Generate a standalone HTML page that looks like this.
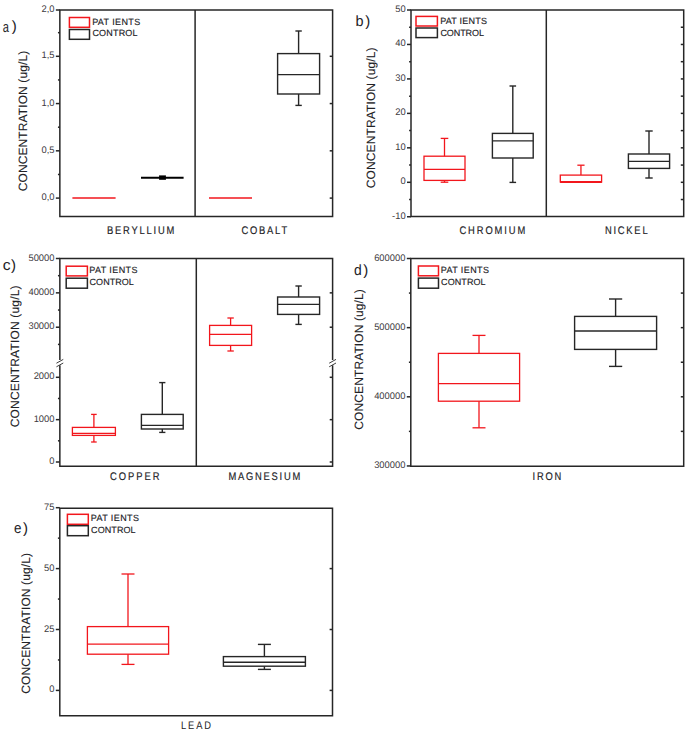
<!DOCTYPE html>
<html><head><meta charset="utf-8"><title>Concentration box plots</title>
<style>
html,body{margin:0;padding:0;background:#fff;}
body{width:685px;height:734px;overflow:hidden;}
svg{display:block;font-family:"Liberation Sans",sans-serif;text-rendering:geometricPrecision;}
.pl{fill:#222226;stroke:#222226;stroke-width:0.0px;}
.xl{fill:#222226;stroke:#222226;stroke-width:0.18px;}
.lg{fill:#222226;stroke:#222226;stroke-width:0.15px;}
.yl{fill:#222226;stroke:#222226;stroke-width:0.1px;}
.tk{fill:#3c3a40;stroke:#3c3a40;stroke-width:0.0px;}
</style></head>
<body>
<svg width="685" height="734" viewBox="0 0 685 734">
<rect x="0" y="0" width="685" height="734" fill="#fff"/>
<path d="M59.85 10H332.6V216.5H59.85Z" fill="none" stroke="#262626" stroke-width="1.5"/>
<line x1="195.1" y1="10" x2="195.1" y2="216.5" stroke="#262626" stroke-width="1.5"/>
<line x1="55.85" y1="198.1" x2="59.85" y2="198.1" stroke="#262626" stroke-width="1.5"/>
<line x1="55.85" y1="150.83" x2="59.85" y2="150.83" stroke="#262626" stroke-width="1.5"/>
<line x1="55.85" y1="103.57" x2="59.85" y2="103.57" stroke="#262626" stroke-width="1.5"/>
<line x1="55.85" y1="56.3" x2="59.85" y2="56.3" stroke="#262626" stroke-width="1.5"/>
<line x1="55.85" y1="10" x2="59.85" y2="10" stroke="#262626" stroke-width="1.5"/>
<line x1="57.95" y1="174.47" x2="59.85" y2="174.47" stroke="#262626" stroke-width="1.5"/>
<line x1="57.95" y1="127.2" x2="59.85" y2="127.2" stroke="#262626" stroke-width="1.5"/>
<line x1="57.95" y1="79.94" x2="59.85" y2="79.94" stroke="#262626" stroke-width="1.5"/>
<line x1="57.95" y1="32.67" x2="59.85" y2="32.67" stroke="#262626" stroke-width="1.5"/>
<line x1="329.7" y1="198.1" x2="332.6" y2="198.1" stroke="#262626" stroke-width="1.5"/>
<line x1="329.7" y1="150.83" x2="332.6" y2="150.83" stroke="#262626" stroke-width="1.5"/>
<line x1="329.7" y1="103.57" x2="332.6" y2="103.57" stroke="#262626" stroke-width="1.5"/>
<line x1="329.7" y1="56.3" x2="332.6" y2="56.3" stroke="#262626" stroke-width="1.5"/>
<text x="54.55" y="12" font-size="9.5" class="tk" text-anchor="end" textLength="13.07" lengthAdjust="spacingAndGlyphs">2,0</text>
<text x="54.55" y="58.3" font-size="9.5" class="tk" text-anchor="end" textLength="13.07" lengthAdjust="spacingAndGlyphs">1,5</text>
<text x="54.55" y="105.57" font-size="9.5" class="tk" text-anchor="end" textLength="13.07" lengthAdjust="spacingAndGlyphs">1,0</text>
<text x="54.55" y="152.83" font-size="9.5" class="tk" text-anchor="end" textLength="13.07" lengthAdjust="spacingAndGlyphs">0,5</text>
<text x="54.55" y="200.1" font-size="9.5" class="tk" text-anchor="end" textLength="13.07" lengthAdjust="spacingAndGlyphs">0,0</text>
<rect x="69.4" y="17.5" width="20.1" height="9.8" stroke="#f2161c" stroke-width="1.5" fill="none"/>
<rect x="69.4" y="29.5" width="20.1" height="9.8" stroke="#262626" stroke-width="1.5" fill="none"/>
<text font-size="9" class="lg" textLength="48.05" lengthAdjust="spacing" transform="translate(92.15,24.63)">PAT IENTS</text>
<text font-size="9" class="lg" textLength="45.20" lengthAdjust="spacing" transform="translate(92.40,36.42)">CONTROL</text>
<line x1="72.4" y1="198" x2="115.6" y2="198" stroke="#f2161c" stroke-width="1.5"/>
<line x1="141" y1="177.7" x2="183.6" y2="177.7" stroke="#000" stroke-width="2.1"/>
<rect x="159.3" y="175.8" width="6.4" height="3.7" stroke="#000" stroke-width="0.6" fill="#000"/>
<line x1="209" y1="198" x2="252" y2="198" stroke="#f2161c" stroke-width="1.5"/>
<line x1="298.6" y1="31" x2="298.6" y2="53.6" stroke="#262626" stroke-width="1.4"/>
<line x1="298.6" y1="94" x2="298.6" y2="105.4" stroke="#262626" stroke-width="1.4"/>
<line x1="295.4" y1="31" x2="301.8" y2="31" stroke="#262626" stroke-width="1.4"/>
<line x1="295.4" y1="105.4" x2="301.8" y2="105.4" stroke="#262626" stroke-width="1.4"/>
<rect x="277.6" y="53.6" width="42" height="40.4" stroke="#262626" stroke-width="1.4" fill="none"/>
<line x1="277.6" y1="74.6" x2="319.6" y2="74.6" stroke="#262626" stroke-width="1.4"/>
<text font-size="11" class="xl" textLength="79.24" lengthAdjust="spacing" transform="translate(106.90,234.00) scale(0.850,1)">BERYLLIUM</text>
<text font-size="11" class="xl" textLength="53.82" lengthAdjust="spacing" transform="translate(241.40,234.00) scale(0.850,1)">COBALT</text>
<text font-size="15" class="pl" transform="translate(2.85,31.60) scale(0.742,1)">a</text>
<text font-size="15" class="pl" transform="translate(11.63,31.27)">)</text>
<text x="0" y="0" font-size="12" class="yl" textLength="140.45" lengthAdjust="spacing" transform="translate(27.00,191.25) scale(1.000,1) rotate(-90)">CONCENTRATION (ug/L)</text>
<path d="M411 10H683.7V216.5H411Z" fill="none" stroke="#262626" stroke-width="1.5"/>
<line x1="546.3" y1="10" x2="546.3" y2="216.5" stroke="#262626" stroke-width="1.5"/>
<line x1="407" y1="216.76" x2="411" y2="216.76" stroke="#262626" stroke-width="1.5"/>
<line x1="407" y1="182.3" x2="411" y2="182.3" stroke="#262626" stroke-width="1.5"/>
<line x1="407" y1="147.84" x2="411" y2="147.84" stroke="#262626" stroke-width="1.5"/>
<line x1="407" y1="113.38" x2="411" y2="113.38" stroke="#262626" stroke-width="1.5"/>
<line x1="407" y1="78.92" x2="411" y2="78.92" stroke="#262626" stroke-width="1.5"/>
<line x1="407" y1="44.46" x2="411" y2="44.46" stroke="#262626" stroke-width="1.5"/>
<line x1="407" y1="10" x2="411" y2="10" stroke="#262626" stroke-width="1.5"/>
<line x1="409.1" y1="199.53" x2="411" y2="199.53" stroke="#262626" stroke-width="1.5"/>
<line x1="409.1" y1="165.07" x2="411" y2="165.07" stroke="#262626" stroke-width="1.5"/>
<line x1="409.1" y1="130.61" x2="411" y2="130.61" stroke="#262626" stroke-width="1.5"/>
<line x1="409.1" y1="96.15" x2="411" y2="96.15" stroke="#262626" stroke-width="1.5"/>
<line x1="409.1" y1="61.69" x2="411" y2="61.69" stroke="#262626" stroke-width="1.5"/>
<line x1="409.1" y1="27.23" x2="411" y2="27.23" stroke="#262626" stroke-width="1.5"/>
<line x1="680.8" y1="199.53" x2="683.7" y2="199.53" stroke="#262626" stroke-width="1.5"/>
<line x1="680.8" y1="182.3" x2="683.7" y2="182.3" stroke="#262626" stroke-width="1.5"/>
<line x1="680.8" y1="165.07" x2="683.7" y2="165.07" stroke="#262626" stroke-width="1.5"/>
<line x1="680.8" y1="147.84" x2="683.7" y2="147.84" stroke="#262626" stroke-width="1.5"/>
<line x1="680.8" y1="130.61" x2="683.7" y2="130.61" stroke="#262626" stroke-width="1.5"/>
<line x1="680.8" y1="113.38" x2="683.7" y2="113.38" stroke="#262626" stroke-width="1.5"/>
<line x1="680.8" y1="96.15" x2="683.7" y2="96.15" stroke="#262626" stroke-width="1.5"/>
<line x1="680.8" y1="78.92" x2="683.7" y2="78.92" stroke="#262626" stroke-width="1.5"/>
<line x1="680.8" y1="61.69" x2="683.7" y2="61.69" stroke="#262626" stroke-width="1.5"/>
<line x1="680.8" y1="44.46" x2="683.7" y2="44.46" stroke="#262626" stroke-width="1.5"/>
<line x1="680.8" y1="27.23" x2="683.7" y2="27.23" stroke="#262626" stroke-width="1.5"/>
<text x="405.7" y="12" font-size="9.5" class="tk" text-anchor="end" textLength="10.45" lengthAdjust="spacingAndGlyphs">50</text>
<text x="405.7" y="46.46" font-size="9.5" class="tk" text-anchor="end" textLength="10.45" lengthAdjust="spacingAndGlyphs">40</text>
<text x="405.7" y="80.92" font-size="9.5" class="tk" text-anchor="end" textLength="10.45" lengthAdjust="spacingAndGlyphs">30</text>
<text x="405.7" y="115.38" font-size="9.5" class="tk" text-anchor="end" textLength="10.45" lengthAdjust="spacingAndGlyphs">20</text>
<text x="405.7" y="149.84" font-size="9.5" class="tk" text-anchor="end" textLength="10.45" lengthAdjust="spacingAndGlyphs">10</text>
<text x="405.7" y="184.3" font-size="9.5" class="tk" text-anchor="end" textLength="5.23" lengthAdjust="spacingAndGlyphs">0</text>
<text x="405.7" y="218.76" font-size="9.5" class="tk" text-anchor="end" textLength="13.58" lengthAdjust="spacingAndGlyphs">-10</text>
<rect x="416" y="16.4" width="21.4" height="9.6" stroke="#f2161c" stroke-width="1.5" fill="none"/>
<rect x="416" y="28" width="21.4" height="9.6" stroke="#262626" stroke-width="1.5" fill="none"/>
<text font-size="9" class="lg" textLength="46.85" lengthAdjust="spacing" transform="translate(440.15,23.87)">PAT IENTS</text>
<text font-size="9" class="lg" textLength="43.60" lengthAdjust="spacing" transform="translate(440.40,35.88)">CONTROL</text>
<line x1="444.5" y1="138.4" x2="444.5" y2="156.2" stroke="#f2161c" stroke-width="1.3"/>
<line x1="444.5" y1="180.4" x2="444.5" y2="182.2" stroke="#f2161c" stroke-width="1.3"/>
<line x1="440.7" y1="138.4" x2="448.3" y2="138.4" stroke="#f2161c" stroke-width="1.3"/>
<line x1="440.7" y1="182.2" x2="448.3" y2="182.2" stroke="#f2161c" stroke-width="1.3"/>
<rect x="424" y="156.2" width="41" height="24.2" stroke="#f2161c" stroke-width="1.3" fill="none"/>
<line x1="424" y1="169.4" x2="465" y2="169.4" stroke="#f2161c" stroke-width="1.3"/>
<line x1="512.8" y1="86" x2="512.8" y2="133.4" stroke="#262626" stroke-width="1.4"/>
<line x1="512.8" y1="158" x2="512.8" y2="182.4" stroke="#262626" stroke-width="1.4"/>
<line x1="509.5" y1="86" x2="516.1" y2="86" stroke="#262626" stroke-width="1.4"/>
<line x1="509.5" y1="182.4" x2="516.1" y2="182.4" stroke="#262626" stroke-width="1.4"/>
<rect x="492.4" y="133.4" width="40.8" height="24.6" stroke="#262626" stroke-width="1.4" fill="none"/>
<line x1="492.4" y1="140.9" x2="533.2" y2="140.9" stroke="#262626" stroke-width="1.4"/>
<line x1="580.95" y1="165.2" x2="580.95" y2="175.1" stroke="#f2161c" stroke-width="1.3"/>
<line x1="580.95" y1="182" x2="580.95" y2="182" stroke="#f2161c" stroke-width="1.3"/>
<line x1="577.35" y1="165.2" x2="584.55" y2="165.2" stroke="#f2161c" stroke-width="1.3"/>
<line x1="577.35" y1="182" x2="584.55" y2="182" stroke="#f2161c" stroke-width="1.3"/>
<rect x="560.3" y="175.1" width="41.3" height="6.9" stroke="#f2161c" stroke-width="1.3" fill="none"/>
<line x1="560.3" y1="182" x2="601.6" y2="182" stroke="#f2161c" stroke-width="1.3"/>
<line x1="560.3" y1="181.9" x2="601.6" y2="181.9" stroke="#f2161c" stroke-width="2.0"/>
<line x1="649" y1="131" x2="649" y2="154" stroke="#262626" stroke-width="1.4"/>
<line x1="649" y1="168.4" x2="649" y2="178" stroke="#262626" stroke-width="1.4"/>
<line x1="645.3" y1="131" x2="652.7" y2="131" stroke="#262626" stroke-width="1.4"/>
<line x1="645.3" y1="178" x2="652.7" y2="178" stroke="#262626" stroke-width="1.4"/>
<rect x="628.4" y="154" width="41.2" height="14.4" stroke="#262626" stroke-width="1.4" fill="none"/>
<line x1="628.4" y1="161.4" x2="669.6" y2="161.4" stroke="#262626" stroke-width="1.4"/>
<text font-size="11" class="xl" textLength="77.47" lengthAdjust="spacing" transform="translate(459.40,234.00) scale(0.850,1)">CHROMIUM</text>
<text font-size="11" class="xl" textLength="50.24" lengthAdjust="spacing" transform="translate(604.90,234.00) scale(0.850,1)">NICKEL</text>
<text font-size="15" class="pl" transform="translate(355.40,25.88) scale(0.964,1)">b</text>
<text font-size="15" class="pl" transform="translate(365.23,25.82)">)</text>
<text x="0" y="0" font-size="12" class="yl" textLength="140.85" lengthAdjust="spacing" transform="translate(374.80,188.25) scale(1.000,1) rotate(-90)">CONCENTRATION (ug/L)</text>
<path d="M59.85 360.0V258.5H332.6V360.0M332.6 365.2V466.3H59.85V365.2" fill="none" stroke="#262626" stroke-width="1.5"/>
<line x1="196.3" y1="258.5" x2="196.3" y2="466.3" stroke="#262626" stroke-width="1.5"/>
<line x1="56.45" y1="363.2" x2="63.25" y2="359.4" stroke="#333" stroke-width="0.95"/>
<line x1="56.45" y1="366.8" x2="63.25" y2="363" stroke="#333" stroke-width="0.95"/>
<line x1="329.2" y1="363.2" x2="336" y2="359.4" stroke="#333" stroke-width="0.95"/>
<line x1="329.2" y1="366.8" x2="336" y2="363" stroke="#333" stroke-width="0.95"/>
<line x1="55.85" y1="258.5" x2="59.85" y2="258.5" stroke="#262626" stroke-width="1.5"/>
<line x1="55.85" y1="292.86" x2="59.85" y2="292.86" stroke="#262626" stroke-width="1.5"/>
<line x1="55.85" y1="327.22" x2="59.85" y2="327.22" stroke="#262626" stroke-width="1.5"/>
<line x1="55.85" y1="377.3" x2="59.85" y2="377.3" stroke="#262626" stroke-width="1.5"/>
<line x1="55.85" y1="419.65" x2="59.85" y2="419.65" stroke="#262626" stroke-width="1.5"/>
<line x1="55.85" y1="462" x2="59.85" y2="462" stroke="#262626" stroke-width="1.5"/>
<line x1="57.95" y1="275.68" x2="59.85" y2="275.68" stroke="#262626" stroke-width="1.5"/>
<line x1="57.95" y1="310.04" x2="59.85" y2="310.04" stroke="#262626" stroke-width="1.5"/>
<line x1="57.95" y1="344.4" x2="59.85" y2="344.4" stroke="#262626" stroke-width="1.5"/>
<line x1="57.95" y1="398.48" x2="59.85" y2="398.48" stroke="#262626" stroke-width="1.5"/>
<line x1="57.95" y1="440.82" x2="59.85" y2="440.82" stroke="#262626" stroke-width="1.5"/>
<line x1="329.7" y1="292.86" x2="332.6" y2="292.86" stroke="#262626" stroke-width="1.5"/>
<line x1="329.7" y1="327.22" x2="332.6" y2="327.22" stroke="#262626" stroke-width="1.5"/>
<line x1="329.7" y1="377.3" x2="332.6" y2="377.3" stroke="#262626" stroke-width="1.5"/>
<line x1="329.7" y1="419.65" x2="332.6" y2="419.65" stroke="#262626" stroke-width="1.5"/>
<line x1="329.7" y1="462" x2="332.6" y2="462" stroke="#262626" stroke-width="1.5"/>
<text x="54.55" y="260.5" font-size="9.5" class="tk" text-anchor="end" textLength="26.13" lengthAdjust="spacingAndGlyphs">50000</text>
<text x="54.55" y="294.86" font-size="9.5" class="tk" text-anchor="end" textLength="26.13" lengthAdjust="spacingAndGlyphs">40000</text>
<text x="54.55" y="329.22" font-size="9.5" class="tk" text-anchor="end" textLength="26.13" lengthAdjust="spacingAndGlyphs">30000</text>
<text x="54.55" y="379.3" font-size="9.5" class="tk" text-anchor="end" textLength="20.91" lengthAdjust="spacingAndGlyphs">2000</text>
<text x="54.55" y="421.65" font-size="9.5" class="tk" text-anchor="end" textLength="20.91" lengthAdjust="spacingAndGlyphs">1000</text>
<text x="54.55" y="464" font-size="9.5" class="tk" text-anchor="end" textLength="5.23" lengthAdjust="spacingAndGlyphs">0</text>
<rect x="66.2" y="266.2" width="21.2" height="9.7" stroke="#f2161c" stroke-width="1.5" fill="none"/>
<rect x="66.2" y="278.2" width="21.2" height="10" stroke="#262626" stroke-width="1.5" fill="none"/>
<text font-size="9" class="lg" textLength="48.05" lengthAdjust="spacing" transform="translate(89.35,273.23)">PAT IENTS</text>
<text font-size="9" class="lg" textLength="44.10" lengthAdjust="spacing" transform="translate(89.60,285.23)">CONTROL</text>
<line x1="93.9" y1="414.4" x2="93.9" y2="427.4" stroke="#f2161c" stroke-width="1.3"/>
<line x1="93.9" y1="435.4" x2="93.9" y2="442" stroke="#f2161c" stroke-width="1.3"/>
<line x1="91.1" y1="414.4" x2="96.7" y2="414.4" stroke="#f2161c" stroke-width="1.3"/>
<line x1="91.1" y1="442" x2="96.7" y2="442" stroke="#f2161c" stroke-width="1.3"/>
<rect x="72.4" y="427.4" width="43" height="8" stroke="#f2161c" stroke-width="1.3" fill="none"/>
<line x1="72.4" y1="433.4" x2="115.4" y2="433.4" stroke="#f2161c" stroke-width="1.3"/>
<line x1="162.3" y1="382.6" x2="162.3" y2="414.4" stroke="#262626" stroke-width="1.4"/>
<line x1="162.3" y1="429" x2="162.3" y2="432.4" stroke="#262626" stroke-width="1.4"/>
<line x1="159.2" y1="382.6" x2="165.4" y2="382.6" stroke="#262626" stroke-width="1.4"/>
<line x1="159.2" y1="432.4" x2="165.4" y2="432.4" stroke="#262626" stroke-width="1.4"/>
<rect x="141.4" y="414.4" width="41.8" height="14.6" stroke="#262626" stroke-width="1.4" fill="none"/>
<line x1="141.4" y1="425.4" x2="183.2" y2="425.4" stroke="#262626" stroke-width="1.4"/>
<line x1="230.6" y1="318" x2="230.6" y2="325.4" stroke="#f2161c" stroke-width="1.3"/>
<line x1="230.6" y1="345.4" x2="230.6" y2="351" stroke="#f2161c" stroke-width="1.3"/>
<line x1="227.4" y1="318" x2="233.8" y2="318" stroke="#f2161c" stroke-width="1.3"/>
<line x1="227.4" y1="351" x2="233.8" y2="351" stroke="#f2161c" stroke-width="1.3"/>
<rect x="209.6" y="325.4" width="42" height="20" stroke="#f2161c" stroke-width="1.3" fill="none"/>
<line x1="209.6" y1="334.3" x2="251.6" y2="334.3" stroke="#f2161c" stroke-width="1.3"/>
<line x1="298.6" y1="286" x2="298.6" y2="297" stroke="#262626" stroke-width="1.4"/>
<line x1="298.6" y1="314.4" x2="298.6" y2="324.4" stroke="#262626" stroke-width="1.4"/>
<line x1="295.4" y1="286" x2="301.8" y2="286" stroke="#262626" stroke-width="1.4"/>
<line x1="295.4" y1="324.4" x2="301.8" y2="324.4" stroke="#262626" stroke-width="1.4"/>
<rect x="277.6" y="297" width="42" height="17.4" stroke="#262626" stroke-width="1.4" fill="none"/>
<line x1="277.6" y1="304.4" x2="319.6" y2="304.4" stroke="#262626" stroke-width="1.4"/>
<text font-size="11" class="xl" textLength="58.12" lengthAdjust="spacing" transform="translate(110.00,480.00) scale(0.850,1)">COPPER</text>
<text font-size="11" class="xl" textLength="84.41" lengthAdjust="spacing" transform="translate(228.50,480.00) scale(0.850,1)">MAGNESIUM</text>
<text font-size="15" class="pl" transform="translate(2.85,269.85) scale(1.039,1)">c</text>
<text font-size="15" class="pl" transform="translate(10.88,270.18)">)</text>
<text x="0" y="0" font-size="12" class="yl" textLength="141.75" lengthAdjust="spacing" transform="translate(19.40,427.25) scale(1.000,1) rotate(-90)">CONCENTRATION (ug/L)</text>
<path d="M410.8 258.5H683.7V466.3H410.8Z" fill="none" stroke="#262626" stroke-width="1.5"/>
<line x1="406.8" y1="258.5" x2="410.8" y2="258.5" stroke="#262626" stroke-width="1.5"/>
<line x1="406.8" y1="327.65" x2="410.8" y2="327.65" stroke="#262626" stroke-width="1.5"/>
<line x1="406.8" y1="396.8" x2="410.8" y2="396.8" stroke="#262626" stroke-width="1.5"/>
<line x1="406.8" y1="465.95" x2="410.8" y2="465.95" stroke="#262626" stroke-width="1.5"/>
<line x1="408.9" y1="293.07" x2="410.8" y2="293.07" stroke="#262626" stroke-width="1.5"/>
<line x1="408.9" y1="362.23" x2="410.8" y2="362.23" stroke="#262626" stroke-width="1.5"/>
<line x1="408.9" y1="431.38" x2="410.8" y2="431.38" stroke="#262626" stroke-width="1.5"/>
<line x1="680.8" y1="293.07" x2="683.7" y2="293.07" stroke="#262626" stroke-width="1.5"/>
<line x1="680.8" y1="327.65" x2="683.7" y2="327.65" stroke="#262626" stroke-width="1.5"/>
<line x1="680.8" y1="362.23" x2="683.7" y2="362.23" stroke="#262626" stroke-width="1.5"/>
<line x1="680.8" y1="396.8" x2="683.7" y2="396.8" stroke="#262626" stroke-width="1.5"/>
<line x1="680.8" y1="431.38" x2="683.7" y2="431.38" stroke="#262626" stroke-width="1.5"/>
<text x="405.5" y="260.5" font-size="9.5" class="tk" text-anchor="end" textLength="31.36" lengthAdjust="spacingAndGlyphs">600000</text>
<text x="405.5" y="329.65" font-size="9.5" class="tk" text-anchor="end" textLength="31.36" lengthAdjust="spacingAndGlyphs">500000</text>
<text x="405.5" y="398.8" font-size="9.5" class="tk" text-anchor="end" textLength="31.36" lengthAdjust="spacingAndGlyphs">400000</text>
<text x="405.5" y="467.95" font-size="9.5" class="tk" text-anchor="end" textLength="31.36" lengthAdjust="spacingAndGlyphs">300000</text>
<rect x="418.4" y="266" width="20.1" height="9.8" stroke="#f2161c" stroke-width="1.5" fill="none"/>
<rect x="418.4" y="278.1" width="20.1" height="10.1" stroke="#262626" stroke-width="1.5" fill="none"/>
<text font-size="9" class="lg" textLength="48.05" lengthAdjust="spacing" transform="translate(440.85,273.23)">PAT IENTS</text>
<text font-size="9" class="lg" textLength="44.50" lengthAdjust="spacing" transform="translate(441.10,285.28)">CONTROL</text>
<line x1="479" y1="335.4" x2="479" y2="353.4" stroke="#f2161c" stroke-width="1.3"/>
<line x1="479" y1="401.2" x2="479" y2="427.8" stroke="#f2161c" stroke-width="1.3"/>
<line x1="472.5" y1="335.4" x2="485.5" y2="335.4" stroke="#f2161c" stroke-width="1.3"/>
<line x1="472.5" y1="427.8" x2="485.5" y2="427.8" stroke="#f2161c" stroke-width="1.3"/>
<rect x="438.4" y="353.4" width="81.2" height="47.8" stroke="#f2161c" stroke-width="1.3" fill="none"/>
<line x1="438.4" y1="383.6" x2="519.6" y2="383.6" stroke="#f2161c" stroke-width="1.3"/>
<line x1="615.6" y1="299" x2="615.6" y2="316.4" stroke="#262626" stroke-width="1.4"/>
<line x1="615.6" y1="349.4" x2="615.6" y2="366.4" stroke="#262626" stroke-width="1.4"/>
<line x1="609" y1="299" x2="622.2" y2="299" stroke="#262626" stroke-width="1.4"/>
<line x1="609" y1="366.4" x2="622.2" y2="366.4" stroke="#262626" stroke-width="1.4"/>
<rect x="574.6" y="316.4" width="82" height="33" stroke="#262626" stroke-width="1.4" fill="none"/>
<line x1="574.6" y1="331" x2="656.6" y2="331" stroke="#262626" stroke-width="1.4"/>
<text font-size="11" class="xl" textLength="33.82" lengthAdjust="spacing" transform="translate(532.50,480.12) scale(0.850,1)">IRON</text>
<text font-size="15" class="pl" transform="translate(353.95,275.38) scale(0.928,1)">d</text>
<text font-size="15" class="pl" transform="translate(363.27,275.43)">)</text>
<text x="0" y="0" font-size="12" class="yl" textLength="140.45" lengthAdjust="spacing" transform="translate(362.60,429.65) scale(1.000,1) rotate(-90)">CONCENTRATION (ug/L)</text>
<path d="M59.8 508.2H332.5V715.8H59.8Z" fill="none" stroke="#262626" stroke-width="1.5"/>
<line x1="55.8" y1="507.7" x2="59.8" y2="507.7" stroke="#262626" stroke-width="1.5"/>
<line x1="55.8" y1="568.6" x2="59.8" y2="568.6" stroke="#262626" stroke-width="1.5"/>
<line x1="55.8" y1="629.5" x2="59.8" y2="629.5" stroke="#262626" stroke-width="1.5"/>
<line x1="55.8" y1="690.4" x2="59.8" y2="690.4" stroke="#262626" stroke-width="1.5"/>
<line x1="57.9" y1="538.15" x2="59.8" y2="538.15" stroke="#262626" stroke-width="1.5"/>
<line x1="57.9" y1="599.05" x2="59.8" y2="599.05" stroke="#262626" stroke-width="1.5"/>
<line x1="57.9" y1="659.95" x2="59.8" y2="659.95" stroke="#262626" stroke-width="1.5"/>
<line x1="329.6" y1="568.6" x2="332.5" y2="568.6" stroke="#262626" stroke-width="1.5"/>
<line x1="329.6" y1="629.5" x2="332.5" y2="629.5" stroke="#262626" stroke-width="1.5"/>
<line x1="329.6" y1="690.4" x2="332.5" y2="690.4" stroke="#262626" stroke-width="1.5"/>
<text x="54.5" y="509.7" font-size="9.5" class="tk" text-anchor="end" textLength="10.45" lengthAdjust="spacingAndGlyphs">75</text>
<text x="54.5" y="570.6" font-size="9.5" class="tk" text-anchor="end" textLength="10.45" lengthAdjust="spacingAndGlyphs">50</text>
<text x="54.5" y="631.5" font-size="9.5" class="tk" text-anchor="end" textLength="10.45" lengthAdjust="spacingAndGlyphs">25</text>
<text x="54.5" y="692.4" font-size="9.5" class="tk" text-anchor="end" textLength="5.23" lengthAdjust="spacingAndGlyphs">0</text>
<rect x="67.4" y="514.3" width="20.9" height="10" stroke="#f2161c" stroke-width="1.5" fill="none"/>
<rect x="67.4" y="525.7" width="20.9" height="10" stroke="#262626" stroke-width="1.5" fill="none"/>
<text font-size="9" class="lg" textLength="48.05" lengthAdjust="spacing" transform="translate(90.85,521.42)">PAT IENTS</text>
<text font-size="9" class="lg" textLength="44.50" lengthAdjust="spacing" transform="translate(91.10,533.42)">CONTROL</text>
<line x1="128" y1="574" x2="128" y2="626.6" stroke="#f2161c" stroke-width="1.3"/>
<line x1="128" y1="654.2" x2="128" y2="664.4" stroke="#f2161c" stroke-width="1.3"/>
<line x1="121.5" y1="574" x2="134.5" y2="574" stroke="#f2161c" stroke-width="1.3"/>
<line x1="121.5" y1="664.4" x2="134.5" y2="664.4" stroke="#f2161c" stroke-width="1.3"/>
<rect x="87.4" y="626.6" width="81.2" height="27.6" stroke="#f2161c" stroke-width="1.3" fill="none"/>
<line x1="87.4" y1="644.2" x2="168.6" y2="644.2" stroke="#f2161c" stroke-width="1.3"/>
<line x1="264.4" y1="644.4" x2="264.4" y2="656.6" stroke="#262626" stroke-width="1.4"/>
<line x1="264.4" y1="666.2" x2="264.4" y2="669.4" stroke="#262626" stroke-width="1.4"/>
<line x1="257.9" y1="644.4" x2="270.9" y2="644.4" stroke="#262626" stroke-width="1.4"/>
<line x1="257.9" y1="669.4" x2="270.9" y2="669.4" stroke="#262626" stroke-width="1.4"/>
<rect x="223.4" y="656.6" width="82" height="9.6" stroke="#262626" stroke-width="1.4" fill="none"/>
<line x1="223.4" y1="662.2" x2="305.4" y2="662.2" stroke="#262626" stroke-width="1.4"/>
<text font-size="11" class="pl" textLength="35.18" lengthAdjust="spacing" transform="translate(181.10,728.60) scale(0.850,1)">LEAD</text>
<text font-size="15" class="pl" transform="translate(13.95,532.75) scale(0.895,1)">e</text>
<text font-size="15" class="pl" transform="translate(22.98,532.87)">)</text>
<text x="0" y="0" font-size="12" class="yl" textLength="140.65" lengthAdjust="spacing" transform="translate(30.40,693.65) scale(1.000,1) rotate(-90)">CONCENTRATION (ug/L)</text>
</svg>
</body></html>
